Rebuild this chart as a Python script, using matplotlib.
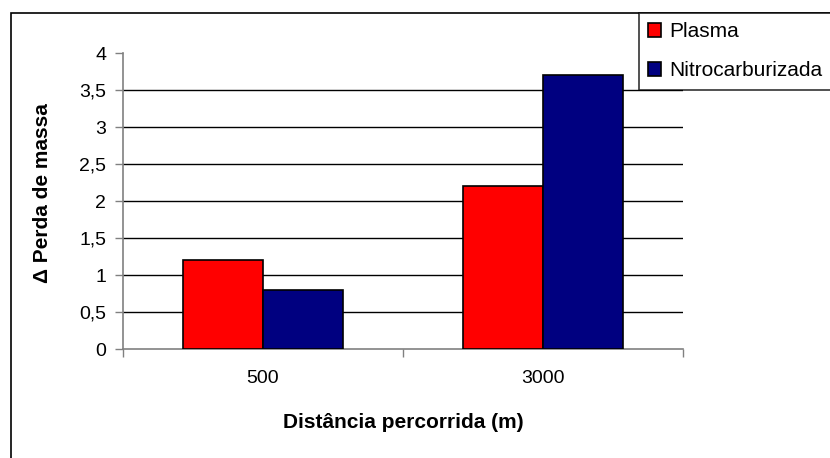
import matplotlib
matplotlib.use("Agg")
import matplotlib.pyplot as plt
from matplotlib.patches import Patch, Rectangle
from matplotlib.ticker import FuncFormatter, FixedLocator

plt.rcParams['font.family'] = ['Liberation Sans', 'DejaVu Sans']

categories = ["500", "3000"]
series_names = ["Plasma", "Nitrocarburizada"]
plasma = [1.2, 2.2]
nitrocarburizada = [0.8, 3.7]
colors = ["#FF0000", "#000080"]
y_ticks = [0, 0.5, 1, 1.5, 2, 2.5, 3, 3.5, 4]

W, H = 830, 458
fig = plt.figure(figsize=(W / 100, H / 100), dpi=100)
fig.patch.set_facecolor("white")

# outer chart frame
fig.add_artist(Rectangle((11 / W, -0.1), 1.2, (H - 13) / H + 0.1,
                         transform=fig.transFigure, fill=False,
                         edgecolor="black", linewidth=1.2))

ax = fig.add_axes([123 / W, (H - 349) / H, 560 / W, 296 / H])
x = list(range(len(categories)))
width = 80 / 280
ax.bar([i - width / 2 for i in x], plasma, width, color=colors[0],
       edgecolor="black", linewidth=1.2, zorder=3)
ax.bar([i + width / 2 for i in x], nitrocarburizada, width, color=colors[1],
       edgecolor="black", linewidth=1.2, zorder=3)

ax.set_xlim(-0.5, len(categories) - 0.5)
ax.set_ylim(0, 4)
ax.set_yticks(y_ticks)
ax.yaxis.set_major_formatter(FuncFormatter(lambda v, p: f"{v:g}".replace(".", ",")))
ax.set_xticks(x)
ax.set_xticklabels(categories)
ax.xaxis.set_minor_locator(FixedLocator([i - 0.5 for i in range(len(categories) + 1)]))
ax.tick_params(axis="x", which="major", length=0, pad=15, labelsize=14)
ax.tick_params(axis="x", which="minor", length=6, color="#808080", width=1)
ax.tick_params(axis="y", length=6, color="#808080", width=1, labelsize=14, pad=6)

ax.yaxis.grid(True, color="black", linewidth=1)
ax.set_axisbelow(True)
ax.get_ygridlines()[-1].set_visible(False)
ax.get_ygridlines()[0].set_visible(False)

for s in ["top", "right"]:
    ax.spines[s].set_visible(False)
for s in ["left", "bottom"]:
    ax.spines[s].set_color("#808080")
    ax.spines[s].set_linewidth(1.2)

fig.text(42 / W, 1 - 193 / H, "Δ Perda de massa", rotation=90, fontsize=15,
         fontweight="bold", ha="center", va="center")
fig.text(403 / W, 1 - 422 / H, "Distância percorrida (m)", fontsize=15,
         fontweight="bold", ha="center", va="center")

handles = [Patch(facecolor=c, edgecolor="black", linewidth=1.2) for c in colors]
leg = fig.legend(handles, series_names, loc="upper left",
                 bbox_to_anchor=(639 / W, (H - 13) / H), frameon=True,
                 fancybox=False, edgecolor="black", fontsize=15,
                 handlelength=0.62, handleheight=0.62, handletextpad=0.4,
                 borderpad=0.45, labelspacing=0.95, borderaxespad=0)
leg.get_frame().set_linewidth(1.2)

fig.savefig("out.png", dpi=100, facecolor="white")
